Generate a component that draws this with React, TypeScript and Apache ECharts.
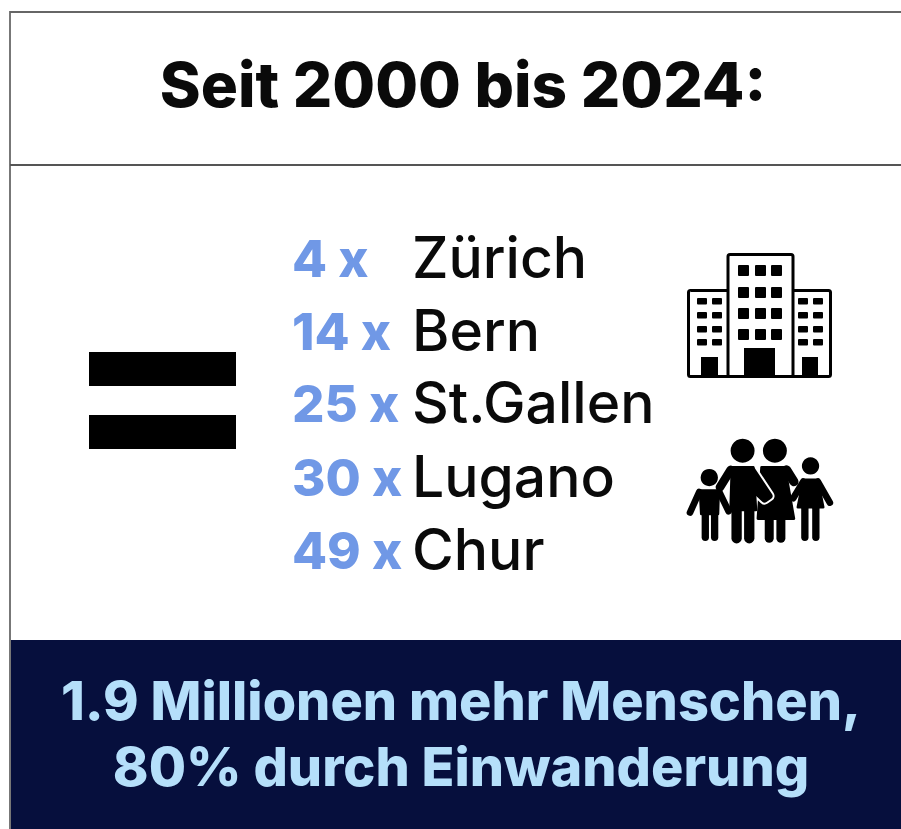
import React, { useEffect, useRef } from "react";
import * as echarts from "echarts";

const titleText = "Seit 2000 bis 2024:";
const multipliers = ["4 x", "14 x", "25 x", "30 x", "49 x"];
const cities = ["Zürich", "Bern", "St.Gallen", "Lugano", "Chur"];
const bannerLines = ["1.9 Millionen mehr Menschen,", "80% durch Einwanderung"];

const rowBaselines = [277, 350, 422, 496, 569];
const BLACK = "#0a0a0a";

function rect(x: number, y: number, w: number, h: number, fill = "#000", r = 0) {
  return { type: "rect", silent: true, shape: { x, y, width: w, height: h, r }, style: { fill } };
}
function frame(x: number, y: number, w: number, h: number) {
  return { type: "rect", silent: true, shape: { x, y, width: w, height: h, r: 2 }, style: { fill: "#fff", stroke: "#000", lineWidth: 3 } };
}
function text(t: string, x: number, baseline: number, size: number, weight: any, fill: string, family: string, align = "left") {
  return { type: "text", silent: true, x, y: baseline - size * 0.88, style: { text: t, fontSize: size, fontWeight: weight, fontFamily: family, fill, align } };
}
function buildingIcon() {
  const out: any[] = [frame(688.5, 290.5, 142, 86), frame(728, 254.5, 65, 122)];
  for (const wy of [265, 287, 308, 329]) for (const wx of [738, 755, 771]) out.push(rect(wx, wy, 11, 11, "#000", 1));
  for (const wy of [298, 312, 326, 339]) {
    for (const wx of [697, 712, 798, 813]) out.push(rect(wx, wy, 10, 6.5, "#000", 1));
  }
  out.push(rect(744, 348, 31, 28), rect(701, 357, 17, 19), rect(802, 357, 16, 19));
  return out;
}
function circle(cx: number, cy: number, r: number, fill = "#000") {
  return { type: "circle", silent: true, shape: { cx, cy, r }, style: { fill } };
}
function line(points: number[][], width: number, color = "#000") {
  return { type: "polyline", silent: true, shape: { points }, style: { stroke: color, lineWidth: width, fill: "none", lineCap: "round", lineJoin: "round" } };
}
function poly(points: number[][], fill = "#000", stroke = "#000", lineWidth = 8) {
  return { type: "polygon", silent: true, shape: { points }, style: { fill, stroke, lineWidth, lineJoin: "round" } };
}
function familyIcon() {
  const manArm = [[245, 118], [298, 198], [284, 208], [256, 182]];
  const children: any[] = [
    // girl
    circle(422, 108, 26),
    poly([[400, 150], [444, 150], [460, 232], [384, 232]]),
    line([[400, 155], [370, 205]], 20),
    line([[444, 155], [480, 218]], 20),
    line([[405, 235], [405, 322]], 22),
    line([[438, 235], [438, 322]], 22),
    // boy
    circle(118, 143, 26),
    poly([[90, 182], [146, 182], [144, 252], [94, 252]]),
    line([[88, 186], [60, 248]], 20),
    line([[148, 186], [176, 244]], 20),
    line([[106, 250], [106, 322]], 22),
    line([[134, 250], [134, 322]], 22),
    // woman
    circle(315, 62, 36),
    line([[350, 120], [372, 155]], 28),
    poly([[275, 112], [345, 112], [372, 266], [264, 266]]),
    line([[298, 268], [298, 325]], 27),
    line([[333, 268], [333, 325]], 27),
    // man's white outline, then the man
    poly(manArm, "#fff", "#fff", 32),
    circle(218, 62, 36),
    poly([[186, 112], [250, 112], [258, 240], [182, 240]]),
    line([[182, 120], [150, 172]], 26),
    poly(manArm, "#000", "#000", 20),
    line([[200, 235], [200, 325]], 31),
    line([[238, 235], [238, 325]], 31),
  ];
  return { type: "group", silent: true, x: 670, y: 430, scaleX: 1 / 3, scaleY: 1 / 3, children };
}

export default function App() {
  const ref = useRef<HTMLDivElement>(null);
  useEffect(() => {
    document.body.style.margin = "0";
    document.body.style.background = "#fff";
    const chart = echarts.init(ref.current!, undefined, { renderer: "svg" });
    const heavy = "Inter";
    const elements: any[] = [
      rect(0, 0, 901, 829, "#fff"),
      rect(9, 11, 2, 818, "#777"),
      rect(10, 11, 891, 2, "#666"),
      rect(10, 164, 891, 2, "#555"),
      rect(11, 640, 890, 189, "#060f3d"),
      text(titleText, 463, 108, 62, 800, BLACK, heavy, "center"),
      rect(89, 352, 147, 34),
      rect(89, 415, 147, 34),
      ...multipliers.map((m, i) => text(m, 292, rowBaselines[i] + 1, 51, 800, "#7098e6", heavy)),
      ...cities.map((c, i) => text(c, 412, rowBaselines[i] + 2, 57, 500, BLACK, heavy)),
      ...buildingIcon(),
      familyIcon(),
      text(bannerLines[0], 461, 721, 54, 800, "#b5dffa", heavy, "center"),
      text(bannerLines[1], 461, 787, 54, 800, "#b5dffa", heavy, "center"),
    ];
    chart.setOption({ animation: false, graphic: { elements } });
    return () => chart.dispose();
  }, []);
  return <div ref={ref} style={{ position: "absolute", left: 0, top: 0, width: 901, height: 829, filter: "blur(0.5px)" }} />;
}
